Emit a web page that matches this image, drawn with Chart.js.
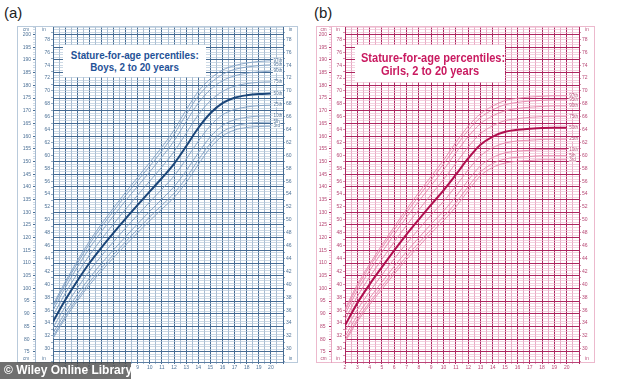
<!DOCTYPE html>
<html>
<head>
<meta charset="utf-8">
<script src="https://cdn.jsdelivr.net/npm/chart.js@4.4.0/dist/chart.umd.min.js"></script>
<style>
  html, body { margin: 0; padding: 0; background: #fff; }
  body { width: 620px; height: 379px; position: relative; overflow: hidden; font-family: "Liberation Sans", Arial, sans-serif; }
  .tag { position: absolute; top: 4px; font-size: 15px; color: #222; }
  .frame { position: absolute; box-sizing: border-box; border: 1px solid; }
  .box { position: absolute; background: #fff; font-weight: bold; text-align: center; white-space: nowrap; }
  .box div { transform-origin: center; }
  .chart { position: absolute; }
  .wm { position: absolute; left: 0; top: 362px; width: 131px; height: 17px; background: rgba(70,70,70,0.78);
        color: #fff; font-weight: bold; font-size: 12px; line-height: 17px; padding-left: 4px; box-sizing: border-box; white-space: nowrap; }
</style>
</head>
<body>
<div class="tag" style="left:4px">(a)</div>
<div class="tag" style="left:314px">(b)</div>

<div class="frame" style="left:17px;top:26px;width:281px;height:337px;border-color:#b9cadb"></div>
<div class="frame" style="left:316px;top:26px;width:279px;height:337px;border-color:#ecb9cd"></div>

<div class="chart" style="left:17px;top:20px;width:281px;height:355px"><canvas id="boys" width="281" height="355"></canvas></div>
<div class="chart" style="left:316px;top:20px;width:279px;height:355px"><canvas id="girls" width="279" height="355"></canvas></div>

<div class="box" style="left:63px;top:45px;width:143px;height:32px;color:#1f5297;font-size:11px;line-height:11.5px;padding-top:5px;box-sizing:border-box">
  <div style="transform:scaleX(0.89)">Stature-for-age percentiles:</div>
  <div style="transform:scaleX(0.89)">Boys, 2 to 20 years</div>
</div>
<div class="box" style="left:355px;top:45px;width:150px;height:37px;color:#c91a60;font-size:12px;line-height:13px;padding-top:7px;box-sizing:border-box">
  <div style="transform:scaleX(0.92)">Stature-for-age percentiles:</div>
  <div style="transform:scaleX(0.92)">Girls, 2 to 20 years</div>
</div>

<div class="wm">© Wiley Online Library</div>

<script>
// ages (years) and percentile curves (cm)
const ages = [2, 3, 4, 5, 6, 7, 8, 9, 10, 11, 12, 13, 14, 15, 16, 17, 18, 19, 20];
const pctNames = ['97th', '95th', '90th', '75th', '50th', '25th', '10th', '5th', '3rd'];

const boysP97 = [93.5, 102.5, 110.8, 118.5, 125.4, 131.7, 137.9, 143.8, 149.7, 155.7, 162.4, 170.3, 177.6, 182.6, 186.0, 187.8, 188.8, 189.4, 189.7];
const boysP95 = [92.7, 101.6, 109.8, 117.4, 124.2, 130.5, 136.6, 142.5, 148.2, 154.2, 160.7, 168.5, 175.8, 180.9, 184.3, 186.3, 187.2, 187.8, 188.1];
const boysP90 = [91.4, 100.2, 108.3, 115.8, 122.4, 128.6, 134.6, 140.3, 146.0, 151.8, 158.1, 165.7, 173.0, 178.3, 181.8, 183.8, 184.8, 185.3, 185.6];
const boysP75 = [89.3, 97.9, 105.8, 113.0, 119.4, 125.4, 131.2, 136.8, 142.3, 147.9, 153.9, 161.1, 168.4, 173.9, 177.6, 179.7, 180.7, 181.2, 181.4];
const boysP50 = [86.9, 95.3, 102.9, 109.9, 116.1, 121.9, 127.5, 132.9, 138.2, 143.5, 149.1, 156.0, 163.2, 169.0, 173.0, 175.1, 176.1, 176.6, 176.8];
const boysP25 = [84.5, 92.7, 100.0, 106.8, 112.8, 118.4, 123.8, 129.0, 134.1, 139.1, 144.3, 150.9, 158.0, 164.1, 168.4, 170.5, 171.5, 172.0, 172.2];
const boysP10 = [82.4, 90.4, 97.5, 104.0, 109.8, 115.2, 120.4, 125.5, 130.4, 135.2, 140.1, 146.3, 153.4, 159.7, 164.2, 166.4, 167.4, 167.9, 168.0];
const boysP5  = [81.1, 89.0, 96.0, 102.4, 108.0, 113.3, 118.4, 123.3, 128.2, 132.8, 137.5, 143.5, 150.6, 157.1, 161.7, 163.9, 165.0, 165.4, 165.5];
const boysP3  = [80.3, 88.1, 95.0, 101.3, 106.8, 112.1, 117.1, 122.0, 126.7, 131.3, 135.8, 141.7, 148.8, 155.4, 160.0, 162.4, 163.4, 163.8, 163.9];

const girlsP97 = [91.9, 101.5, 109.6, 117.1, 124.3, 131.2, 137.8, 144.2, 150.5, 157.5, 163.9, 168.8, 171.9, 174.0, 174.9, 175.4, 175.7, 175.9, 175.9];
const girlsP95 = [91.1, 100.5, 108.6, 116.0, 123.1, 130.0, 136.4, 142.8, 149.0, 155.9, 162.3, 167.3, 170.4, 172.4, 173.3, 173.8, 174.1, 174.3, 174.3];
const girlsP90 = [89.8, 99.1, 107.0, 114.3, 121.3, 128.1, 134.4, 140.6, 146.7, 153.4, 159.8, 164.9, 168.0, 170.0, 170.9, 171.4, 171.7, 171.9, 171.9];
const girlsP75 = [87.7, 96.8, 104.5, 111.5, 118.3, 124.9, 131.0, 137.0, 142.9, 149.3, 155.7, 161.0, 164.1, 166.1, 166.9, 167.4, 167.7, 167.8, 167.8];
const girlsP50 = [85.4, 94.2, 101.6, 108.4, 115.0, 121.3, 127.2, 133.0, 138.6, 144.8, 151.2, 156.6, 159.8, 161.7, 162.5, 162.9, 163.2, 163.3, 163.3];
const girlsP25 = [83.1, 91.6, 98.7, 105.3, 111.7, 117.7, 123.4, 129.0, 134.3, 140.3, 146.7, 152.2, 155.5, 157.3, 158.1, 158.4, 158.7, 158.8, 158.8];
const girlsP10 = [81.0, 89.3, 96.2, 102.5, 108.7, 114.5, 120.0, 125.4, 130.5, 136.2, 142.6, 148.3, 151.6, 153.4, 154.1, 154.4, 154.7, 154.7, 154.7];
const girlsP5  = [79.7, 87.8, 94.6, 100.8, 106.9, 112.6, 118.0, 123.2, 128.2, 133.7, 140.1, 145.9, 149.2, 151.0, 151.7, 152.0, 152.3, 152.3, 152.3];
const girlsP3  = [78.9, 86.9, 93.6, 99.7, 105.7, 111.4, 116.6, 121.8, 126.7, 132.1, 138.5, 144.4, 147.7, 149.4, 150.1, 150.4, 150.7, 150.7, 150.7];

const cmMin = 71, cmMax = 203;

// percentile names at the end of each curve
const pctLabels = {
  id: 'pctLabels',
  afterDatasetsDraw(chart, args, opts) {
    const ctx = chart.ctx;
    ctx.save();
    ctx.font = '4.6px "Liberation Sans", Arial';
    ctx.textBaseline = 'middle';
    chart.data.datasets.forEach((ds, i) => {
      const meta = chart.getDatasetMeta(i);
      const pt = meta.data[meta.data.length - 1];
      const w = ctx.measureText(ds.label).width;
      ctx.fillStyle = '#fff';
      ctx.fillRect(pt.x + 2, pt.y - 2, w + 1, 4);
      ctx.fillStyle = opts.color;
      ctx.fillText(ds.label, pt.x + 2.5, pt.y);
    });
    ctx.restore();
  }
};

// "cm" / "in" captions at both ends of the side rulers
const unitLabels = {
  id: 'unitLabels',
  afterDraw(chart, args, opts) {
    const ctx = chart.ctx, area = chart.chartArea;
    ctx.save();
    ctx.font = '4.6px "Liberation Sans", Arial';
    ctx.fillStyle = opts.color;
    ctx.textAlign = 'center';
    ctx.textBaseline = 'middle';
    [['cm', 'cm'], ['inL', 'in'], ['inR', 'in']].forEach(([id, txt]) => {
      const sc = chart.scales[id];
      const cx = (sc.left + sc.right) / 2;
      ctx.fillText(txt, cx, area.top + 3);
      ctx.fillText(txt, cx, area.bottom - 3);
    });
    ctx.restore();
  }
};

function makeChart(id, series, c, g) {
  const datasets = series.map((vals, i) => ({
    label: pctNames[i],
    xAxisID: 'x',
    yAxisID: 'cm',
    data: ages.map((a, k) => ({ x: a, y: vals[k] })),
    borderColor: i === 4 ? c.main : c.line,
    borderWidth: i === 4 ? 2 : 0.9,
    pointRadius: 0,
    fill: false,
    cubicInterpolationMode: 'monotone'
  }));
  const tickFont = { family: '"Liberation Sans", Arial', size: 5 };
  const inAxis = (pos, w) => ({
    type: 'linear', position: pos, weight: 0,
    min: cmMin / 2.54, max: cmMax / 2.54,
    border: { display: true, color: c.dark, width: 0.8 },
    grid: { drawOnChartArea: false, tickLength: 2, color: c.text, lineWidth: 0.6 },
    ticks: {
      stepSize: 1, autoSkip: false, includeBounds: false, padding: 1, color: c.text, font: tickFont,
      callback: v => (v % 2 === 0 && v >= 30 && v <= 78) ? String(v) : ''
    },
    afterFit: s => { s.width = w; }
  });
  return new Chart(document.getElementById(id), {
    type: 'line',
    data: { datasets },
    options: {
      responsive: false,
      devicePixelRatio: 1,
      animation: false,
      events: [],
      layout: { padding: { top: 7, left: 0, right: 0, bottom: 0 } },
      plugins: {
        legend: { display: false },
        tooltip: { enabled: false },
        pctLabels: { color: c.text },
        unitLabels: { color: c.text }
      },
      scales: {
        x: {
          type: 'linear', min: 2, max: 21,
          border: { display: true, color: c.dark, width: 0.8 },
          grid: {
            color: ctx => (ctx.tick && Number.isInteger(ctx.tick.value)) ? c.dark : c.light,
            lineWidth: ctx => (ctx.tick && Number.isInteger(ctx.tick.value)) ? 1 : 0.8,
            tickLength: 2
          },
          ticks: {
            stepSize: 0.5, autoSkip: false, maxRotation: 0, padding: 1, color: c.text, font: tickFont,
            callback: v => (Number.isInteger(v) && v <= 20) ? String(v) : ''
          },
          afterFit: s => { s.height = 13; }
        },
        cm: {
          type: 'linear', position: 'left', weight: 1,
          min: cmMin, max: cmMax,
          border: { display: true, color: c.light, width: 0.8 },
          grid: {
            color: ctx => (ctx.tick && ctx.tick.value % 5 === 0) ? c.dark : (ctx.tick && ctx.tick.value % 1 === 0 ? c.faint : 'rgba(0,0,0,0)'),
            lineWidth: ctx => (ctx.tick && ctx.tick.value % 5 === 0) ? 1 : 0.7,
            tickLength: 2
          },
          ticks: {
            stepSize: 1, autoSkip: false, padding: 2, color: c.text, font: tickFont, crossAlign: 'center',
            callback: v => (v % 5 === 0 && v >= 75 && v <= 200) ? String(v) : ''
          },
          afterFit: s => { s.width = g.cmW; }
        },
        inL: inAxis('left', g.inW),
        inR: inAxis('right', g.inRW)
      }
    },
    plugins: [pctLabels, unitLabels]
  });
}

makeChart('boys',
  [boysP97, boysP95, boysP90, boysP75, boysP50, boysP25, boysP10, boysP5, boysP3],
  { main: '#1b4679', line: '#7f9fc3', dark: '#456b93', light: '#90aac5', faint: '#b6c8da', text: '#4f7398' },
  { cmW: 18, inW: 18, inRW: 15 });

makeChart('girls',
  [girlsP97, girlsP95, girlsP90, girlsP75, girlsP50, girlsP25, girlsP10, girlsP5, girlsP3],
  { main: '#b0104f', line: '#e585aa', dark: '#ad2660', light: '#e192b4', faint: '#efbfd2', text: '#b84a76' },
  { cmW: 15, inW: 14, inRW: 16 });
</script>
</body>
</html>
